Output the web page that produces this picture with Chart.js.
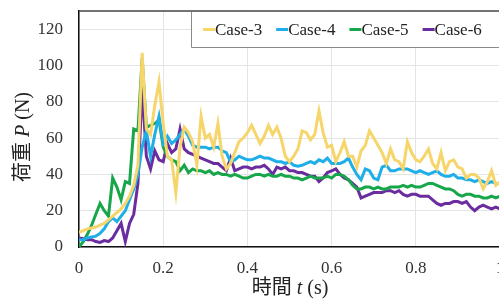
<!DOCTYPE html>
<html>
<head>
<meta charset="utf-8">
<script src="https://cdn.jsdelivr.net/npm/chart.js@4.4.1/dist/chart.umd.min.js"></script>
<style>
  html, body { margin: 0; padding: 0; background: #fff; overflow: hidden; }
  #wrap { width: 530px; height: 300px; }
</style>
</head>
<body>
<div id="wrap"><canvas id="grafico"></canvas></div>
<script>
// Dados (passo de 0.01 s, de 0 a 1.0 s)
const passo = 0.01;
const casos = ['Case-3', 'Case-4', 'Case-5', 'Case-6'];
const cores = ['#f6d56a', '#1eaee8', '#17a64a', '#6a2c9e'];
const ticksX = [0, 0.2, 0.4, 0.6, 0.8, 1];
const ticksY = [0, 20, 40, 60, 80, 100, 120];

const case3 = [8, 9, 10, 10.5, 11, 12, 13, 15, 17, 19,
  21, 24, 28, 34, 45, 107, 65, 62, 78, 91,
  68, 50, 48, 30, 55, 66, 63, 58, 45, 72,
  60, 62, 55, 68, 50, 43, 46, 52, 58, 60,
  63, 67, 62, 57, 61, 67, 62, 66, 60, 50,
  47, 50, 54, 64, 63, 59, 62, 75, 63, 55,
  56, 47, 52, 58, 50, 50, 44, 53, 56, 64,
  60, 56, 52, 46, 54, 48, 47, 43, 58, 52,
  48, 47, 50, 54, 46, 43, 52, 42, 47, 48,
  44, 43, 38, 40, 40, 38, 32, 36, 42, 34, 36];

const case4 = [4, 4, 5, 5.5, 6, 7.5, 10, 14, 16, 14,
  17, 20, 26, 32, 40, 55, 64, 50, 62, 72,
  57, 61, 57, 59, 62, 65, 61, 56, 55, 55,
  55, 54, 55, 55, 53, 52, 47, 48, 50, 49,
  48, 48, 49, 50, 49, 49, 48, 47, 47, 46,
  47, 45, 44.5, 45, 46, 47, 46, 48, 47, 49,
  46, 46, 46, 47, 49, 44, 40, 37, 43, 42,
  38, 37, 44, 45, 42, 42, 43, 43, 43, 42,
  41, 42, 41, 40, 41, 42, 40, 39, 39, 40,
  38, 38, 37, 37, 36, 37, 36, 35, 36, 35, 35];

const case5 = [0, 3, 7, 12, 18, 24, 20, 17, 38, 33,
  26, 36, 35, 65, 64, 104, 66, 67, 68, 70,
  55, 50, 48, 47, 42, 45, 41, 43, 42, 42,
  41, 42, 40, 41, 40, 40, 39, 40, 39, 38,
  38, 39, 40, 40, 39, 40, 39, 39, 40, 39,
  39, 38, 38, 37, 38, 39, 38, 38, 38, 39,
  38, 40, 40, 39, 37, 34, 32, 32, 33, 33,
  32, 33, 32, 32, 33, 33, 33, 34, 33, 34,
  33, 33, 34, 35, 35, 34, 33, 32, 32, 31,
  29, 28, 29, 29, 28, 28, 27, 27, 28, 27, 28];

const case6 = [5, 4.5, 4, 4, 3, 2.5, 3.5, 3, 5, 9,
  13, 3, 13, 18, 35, 88, 50, 43, 53, 48,
  47, 57, 52, 54, 65, 54, 52, 51, 50, 49,
  48, 47, 46, 46, 44, 42, 49, 42, 43, 44,
  44, 43, 44, 44, 45, 43, 40, 44, 43, 44,
  42, 42, 41, 41, 40, 39, 39, 36, 38, 41,
  42, 43, 40, 38, 37, 35, 33, 27, 28, 29,
  30, 30, 30, 31, 31, 30, 31, 29, 28, 29,
  29, 28, 28, 28, 26, 24, 23, 24, 24, 25,
  25, 24, 25, 22, 20, 22, 23, 22, 21, 22, 21];

const series = [case3, case4, case5, case6];

function pontos(valores) {
    return valores.map((v, i) => ({ x: Math.round(i * passo * 100) / 100, y: v }));
}

const fonteSerif = '"Liberation Serif", "Times New Roman", "Noto Sans CJK JP", serif';

// Legenda dentro da área do gráfico, com moldura
const legendaInterna = {
    id: 'legendaInterna',
    afterDraw(chart) {
        const ctx = chart.ctx;
        const area = chart.chartArea;
        const x0 = 191, y0 = area.top + 1, h = 35;
        ctx.save();
        ctx.fillStyle = '#fff';
        ctx.fillRect(x0, y0, chart.width - x0, h);
        ctx.strokeStyle = '#8a8a8a';
        ctx.lineWidth = 1;
        ctx.beginPath();
        ctx.moveTo(x0 + 0.5, y0);
        ctx.lineTo(x0 + 0.5, y0 + h + 0.5);
        ctx.lineTo(chart.width, y0 + h + 0.5);
        ctx.stroke();
        ctx.font = '17px ' + fonteSerif;
        ctx.textBaseline = 'middle';
        let x = 203;
        const yc = y0 + h / 2;
        chart.data.datasets.forEach(ds => {
            ctx.strokeStyle = ds.borderColor;
            ctx.lineWidth = 3;
            ctx.beginPath();
            ctx.moveTo(x, yc);
            ctx.lineTo(x + 12, yc);
            ctx.stroke();
            ctx.fillStyle = '#222';
            ctx.fillText(ds.label, x + 12, yc + 1);
            x += 12 + ctx.measureText(ds.label).width + 14;
        });
        ctx.restore();
    }
};

// Moldura superior e títulos dos eixos com itálico
const titulos = {
    id: 'titulos',
    afterDraw(chart) {
        const ctx = chart.ctx;
        const area = chart.chartArea;
        ctx.save();
        ctx.strokeStyle = '#444';
        ctx.lineWidth = 1.5;
        ctx.beginPath();
        ctx.moveTo(area.left, area.top);
        ctx.lineTo(chart.width, area.top);
        ctx.stroke();

        const partes = (lista) => lista.map(p => {
            ctx.font = (p.it ? 'italic ' : '') + '20px ' + fonteSerif;
            return { ...p, w: ctx.measureText(p.t).width };
        });
        const escrever = (lista, cx, cy) => {
            const total = lista.reduce((s, p) => s + p.w, 0);
            let x = cx - total / 2;
            lista.forEach(p => {
                ctx.font = (p.it ? 'italic ' : '') + '20px ' + fonteSerif;
                ctx.fillText(p.t, x, cy);
                x += p.w;
            });
        };
        ctx.fillStyle = '#222';
        ctx.textBaseline = 'middle';
        const tx = partes([{ t: '時間 ' }, { t: 't', it: true }, { t: ' (s)' }]);
        escrever(tx, 290, 289);

        ctx.translate(24, 137);
        ctx.rotate(-Math.PI / 2);
        const ty = partes([{ t: '荷重 ' }, { t: 'P', it: true }, { t: ' (N)' }]);
        escrever(ty, 0, 0);
        ctx.restore();
    }
};

new Chart(document.getElementById('grafico').getContext('2d'), {
    type: 'line',
    data: {
        datasets: casos.map((nome, k) => ({
            label: nome,
            data: pontos(series[k]),
            borderColor: cores[k],
            backgroundColor: cores[k],
            borderWidth: 3,
            pointRadius: 0,
            tension: 0,
            fill: false
        }))
    },
    options: {
        responsive: true,
        maintainAspectRatio: false,
        animation: false,
        layout: { padding: { top: 11, left: 0, right: 30, bottom: 0 } },
        plugins: {
            legend: { display: false },
            tooltip: { enabled: false }
        },
        scales: {
            x: {
                type: 'linear',
                min: 0,
                max: 1,
                afterBuildTicks: axis => { axis.ticks = ticksX.map(v => ({ value: v })); },
                afterFit: s => { s.height = 53; s.paddingLeft = 0; s.paddingRight = 0; },
                ticks: {
                    color: '#333',
                    font: { family: fonteSerif, size: 17 },
                    maxRotation: 0,
                    padding: 11,
                    callback: v => String(v)
                },
                grid: { color: '#e4e4e4', lineWidth: 1, drawTicks: false },
                border: { color: '#111', width: 1.5 }
            },
            y: {
                min: 0,
                max: 130,
                afterBuildTicks: axis => { axis.ticks = ticksY.map(v => ({ value: v })); },
                afterFit: s => { s.width = 79; s.paddingTop = 0; s.paddingBottom = 0; },
                ticks: {
                    color: '#333',
                    font: { family: fonteSerif, size: 17 },
                    padding: 16,
                    callback: v => String(v)
                },
                grid: { color: '#e4e4e4', lineWidth: 1, drawTicks: false },
                border: { color: '#111', width: 1.5 }
            }
        }
    },
    plugins: [legendaInterna, titulos]
});
</script>
</body>
</html>
